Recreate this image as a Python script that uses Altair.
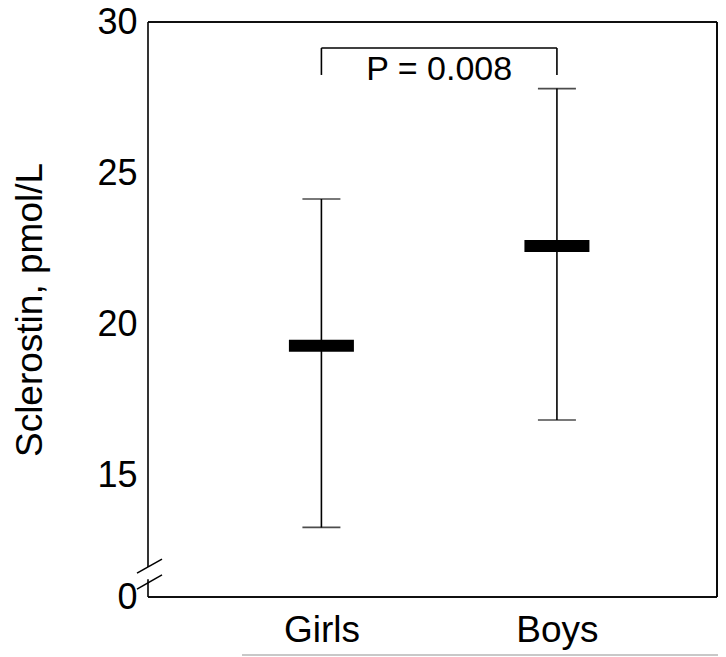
import altair as alt
import pandas as pd

# ---- data ----
groups = ["Girls", "Boys"]
means = [19.3, 22.6]
lows = [13.3, 16.85]
highs = [24.15, 27.8]
y_tick_values = [11, 15, 20, 25, 30]   # 11 is the broken-axis bottom, labelled "0"
p_label = "P = 0.008"
bracket_top = 29.14
bracket_bottom = 28.25
p_text_y = 28.42
axis_gap = [11.59, 11.99]          # gap in the left axis line
break_low = [11.26, 11.73]         # lower slash (y at left, y at right)
break_high = [11.79, 12.25]        # upper slash

df = pd.DataFrame({"group": groups, "mean": means, "low": lows, "high": highs})
bracket_df = pd.DataFrame({"a": ["Girls"], "b": ["Boys"], "y": [bracket_top]})
bracket_ends = pd.DataFrame({"group": groups, "y": [bracket_bottom] * 2, "y2": [bracket_top] * 2})
left_df = pd.DataFrame({"y": [11, axis_gap[1]], "y2": [axis_gap[0], 30]})
break_df = pd.DataFrame({"y": [break_low[0], break_high[0]], "y2": [break_low[1], break_high[1]]})

W, H = 569, 575
FONT = "Liberation Sans"
LW = 1.6

xscale = alt.Scale(type="point", domain=groups, padding=0.708, align=0.52)
yscale = alt.Scale(domain=[11, 30], nice=False, zero=False)

xenc = alt.X(
    "group:N",
    scale=xscale,
    sort=groups,
    axis=alt.Axis(
        title=None, labelAngle=0, ticks=False, domain=False, grid=False,
        labelFont=FONT, labelFontSize=37, labelColor="black", labelPadding=15,
    ),
)

yaxis = alt.Axis(
    title="Sclerostin, pmol/L",
    values=y_tick_values,
    labelExpr="datum.value == 11 ? '0' : datum.label",
    ticks=False, domain=False, grid=False,
    labelFont=FONT, labelFontSize=36, labelColor="black", labelPadding=11,
    titleFont=FONT, titleFontSize=37, titleFontWeight="normal", titleColor="black",
    titleX=-118, titleY=H / 2, titleAngle=270, titleBaseline="middle", titleAlign="center",
)

whisker = alt.Chart(df).mark_rule(color="black", strokeWidth=LW).encode(
    x=xenc,
    y=alt.Y("low:Q", scale=yscale, axis=yaxis),
    y2="high:Q",
)
cap_hi = alt.Chart(df).mark_tick(color="black", size=38, thickness=LW).encode(
    x=alt.X("group:N", scale=xscale), y=alt.Y("high:Q", scale=yscale)
)
cap_lo = alt.Chart(df).mark_tick(color="black", size=38, thickness=LW).encode(
    x=alt.X("group:N", scale=xscale), y=alt.Y("low:Q", scale=yscale)
)
mean_bar = alt.Chart(df).mark_tick(color="black", size=65, thickness=12, opacity=1).encode(
    x=alt.X("group:N", scale=xscale), y=alt.Y("mean:Q", scale=yscale)
)

bracket = alt.Chart(bracket_df).mark_rule(color="black", strokeWidth=LW).encode(
    x=alt.X("a:N", scale=xscale), x2="b:N", y=alt.Y("y:Q", scale=yscale)
)
bracket_tk = alt.Chart(bracket_ends).mark_rule(color="black", strokeWidth=LW).encode(
    x=alt.X("group:N", scale=xscale), y=alt.Y("y:Q", scale=yscale), y2="y2:Q"
)
p_text = alt.Chart(pd.DataFrame({"group": ["Girls"], "y": [p_text_y], "t": [p_label]})).mark_text(
    font=FONT, fontSize=34, color="black", dx=117.75, baseline="middle", align="center"
).encode(x=alt.X("group:N", scale=xscale), y=alt.Y("y:Q", scale=yscale), text="t:N")

frame_top = alt.Chart(df).mark_rule(color="black", strokeWidth=LW).encode(
    x=alt.value(0), x2=alt.value(W), y=alt.YDatum(30, scale=yscale)
)
frame_bot = alt.Chart(df).mark_rule(color="black", strokeWidth=LW).encode(
    x=alt.value(0), x2=alt.value(W), y=alt.YDatum(11, scale=yscale)
)
frame_right = alt.Chart(df).mark_rule(color="black", strokeWidth=LW).encode(
    x=alt.value(W), y=alt.YDatum(11, scale=yscale), y2=alt.Y2Datum(30)
)
frame_left = alt.Chart(left_df).mark_rule(color="black", strokeWidth=LW).encode(
    x=alt.value(0), y=alt.Y("y:Q", scale=yscale), y2="y2:Q"
)
breaks = alt.Chart(break_df).mark_rule(color="black", strokeWidth=LW).encode(
    x=alt.value(-11), x2=alt.value(14), y=alt.Y("y:Q", scale=yscale), y2="y2:Q"
)
# thin grey line running under the plot near the bottom edge of the figure
grey_line = alt.Chart(df).mark_rule(color="#c4c4c4", strokeWidth=1.5).encode(
    x=alt.value(94), x2=alt.value(W + 10), y=alt.value(H + 58)
)

chart = alt.layer(
    whisker, cap_hi, cap_lo, mean_bar, bracket, bracket_tk, p_text,
    frame_top, frame_bot, frame_right, frame_left, breaks, grey_line,
).properties(
    width=W, height=H,
    autosize=alt.AutoSizeParams(type="none"),
    padding={"left": 140, "top": 14, "right": 1, "bottom": 60},
    background="white",
).configure_view(stroke=None)

chart.save("out.html", embed_options={"renderer": "svg", "actions": False})
